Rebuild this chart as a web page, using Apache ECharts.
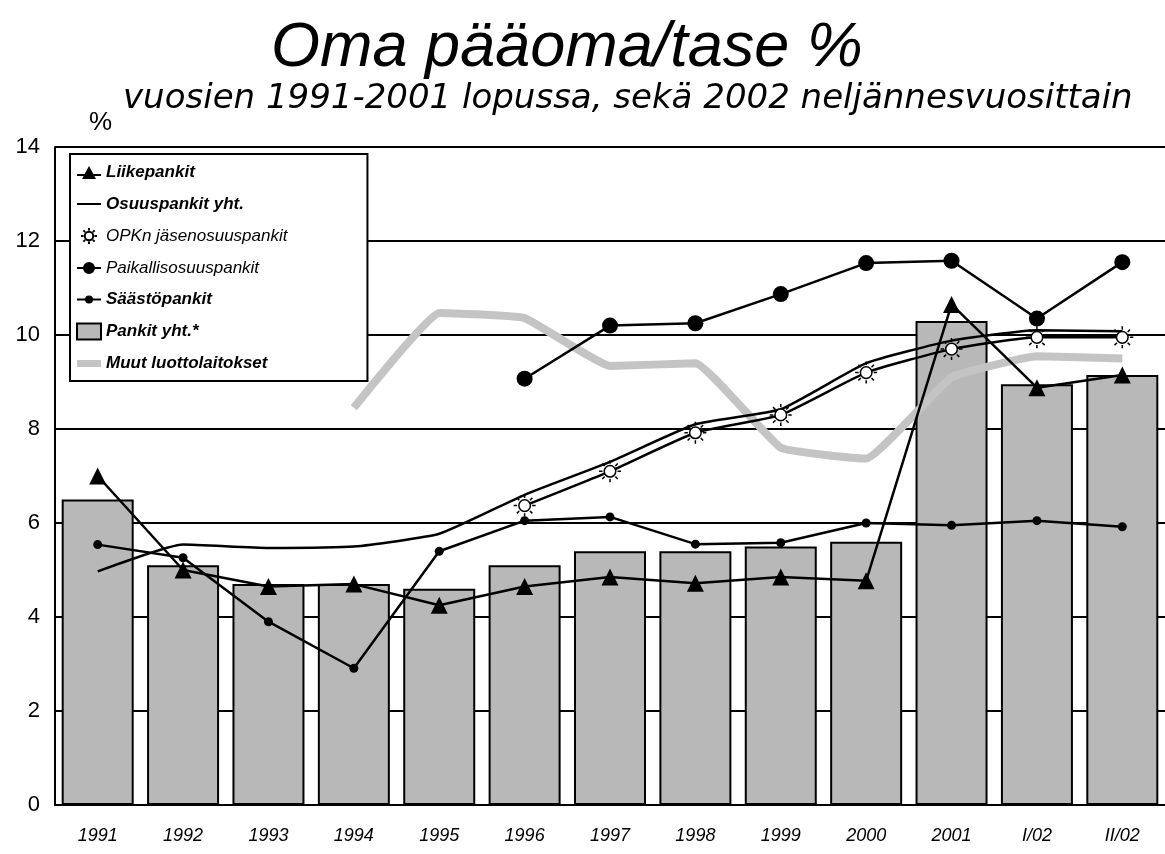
<!DOCTYPE html>
<html>
<head>
<meta charset="utf-8">
<script src="https://cdn.jsdelivr.net/npm/echarts@6/dist/echarts.min.js"></script>
<style>
html,body{margin:0;padding:0;background:#fff;}
#chart{width:1165px;height:854px;}
</style>
</head>
<body>
<div id="chart"></div>
<script>
var categories = ['1991','1992','1993','1994','1995','1996','1997','1998','1999','2000','2001','I/02','II/02'];
var pankitYht = [6.5, 5.1, 4.7, 4.7, 4.6, 5.1, 5.4, 5.4, 5.5, 5.6, 10.3, 8.95, 9.15];
var liikepankit = [7.0, 5.0, 4.65, 4.7, 4.25, 4.65, 4.85, 4.72, 4.85, 4.77, 10.65, 8.88, 9.15];
var osuuspankit = [4.97, 5.54, 5.47, 5.5, 5.77, 6.6, 7.3, 8.1, 8.42, 9.4, 9.88, 10.1, 10.08];
var opkJasen = [null, null, null, null, null, 6.37, 7.1, 7.92, 8.3, 9.2, 9.7, 9.95, 9.95];
var paikallis = [null, null, null, null, null, 9.07, 10.2, 10.25, 10.87, 11.53, 11.58, 10.35, 11.55];
var saasto = [5.54, 5.26, 3.9, 2.91, 5.4, 6.05, 6.13, 5.55, 5.58, 6.0, 5.95, 6.05, 5.92];
var muut = [null, null, null, 8.45, 10.47, 10.36, 9.34, 9.4, 7.6, 7.37, 9.1, 9.55, 9.5];
var yTicks = {min: 0, max: 14, interval: 2};

var sunPath = 'path://M15,10 A5,5 0 1,1 5,10 A5,5 0 1,1 15,10 Z M16.5,10 L19.5,10 M3.5,10 L0.5,10 M10,3.5 L10,0.5 M10,16.5 L10,19.5 M14.6,5.4 L16.7,3.3 M5.4,5.4 L3.3,3.3 M14.6,14.6 L16.7,16.7 M5.4,14.6 L3.3,16.7';
var icoTri = 'path://M0,9 L24,9 L24,11 L0,11 Z M12,1 L19,14 L5,14 Z';
var icoLine = 'path://M0,0 L24,0 L24,2 L0,2 Z';
var icoBigDot = 'path://M0,6 L24,6 L24,8 L0,8 Z M18,7 A6,6 0 1,1 6,7 A6,6 0 1,1 18,7 Z';
var icoSmallDot = 'path://M0,3 L24,3 L24,5 L0,5 Z M16,4 A4,4 0 1,1 8,4 A4,4 0 1,1 16,4 Z';
var icoThick = 'path://M0,0 L24,0 L24,7 L0,7 Z';

var chart = echarts.init(document.getElementById('chart'), null, {renderer: 'canvas'});
var sans = 'Liberation Sans, Arial, sans-serif';
var lblBold = {fontStyle: 'italic', fontWeight: 'bold', fontFamily: sans, fontSize: 17, color: '#000'};
var lblNorm = {fontStyle: 'italic', fontWeight: 'normal', fontFamily: sans, fontSize: 17, color: '#000'};

var option = {
  backgroundColor: '#fff',
  animation: false,
  title: [
    {text: 'Oma pääoma/tase %', left: 266, top: 12,
     textStyle: {fontFamily: sans, fontStyle: 'italic', fontWeight: 'normal', fontSize: 63, color: '#000'}},
    {text: 'vuosien 1991-2001 lopussa, sekä 2002 neljännesvuosittain', left: 118, top: 77,
     textStyle: {fontFamily: 'DejaVu Sans, sans-serif', fontStyle: 'italic', fontWeight: 'normal', fontSize: 34, color: '#000'}},
    {text: '%', left: 84, top: 105,
     textStyle: {fontFamily: sans, fontWeight: 'normal', fontSize: 26, color: '#000'}}
  ],
  legend: {
    orient: 'vertical',
    left: 70, top: 154,
    backgroundColor: '#fff',
    borderColor: '#000', borderWidth: 2,
    padding: [10, 80, 9, 6],
    itemGap: 14.5,
    itemWidth: 24, itemHeight: 16,
    data: [
      {name: 'Liikepankit', icon: icoTri, textStyle: lblBold},
      {name: 'Osuuspankit yht.', icon: icoLine, textStyle: lblBold},
      {name: 'OPKn jäsenosuuspankit', icon: sunPath, textStyle: lblNorm},
      {name: 'Paikallisosuuspankit', icon: icoBigDot, textStyle: lblNorm},
      {name: 'Säästöpankit', icon: icoSmallDot, textStyle: lblBold},
      {name: 'Pankit yht.*', icon: 'rect', textStyle: lblBold},
      {name: 'Muut luottolaitokset', icon: icoThick, textStyle: lblBold}
    ]
  },
  grid: {left: 55, top: 147, width: 1115, height: 658, containLabel: false},
  xAxis: {
    type: 'category',
    data: categories,
    boundaryGap: true,
    axisLine: {lineStyle: {color: '#000', width: 2}},
    axisTick: {show: false},
    axisLabel: {color: '#000', fontStyle: 'italic', fontFamily: sans, fontSize: 18, margin: 22}
  },
  yAxis: {
    type: 'value',
    min: yTicks.min, max: yTicks.max, interval: yTicks.interval,
    axisLine: {show: true, lineStyle: {color: '#000', width: 2}},
    axisTick: {show: false},
    axisLabel: {color: '#000', fontFamily: sans, fontSize: 22, margin: 15},
    splitLine: {show: true, lineStyle: {color: '#000', width: 2}}
  },
  series: [
    {name: 'Pankit yht.*', type: 'bar', data: pankitYht, barWidth: 72,
     itemStyle: {color: '#b8b8b8', borderColor: '#000', borderWidth: 2}},
    {name: 'Muut luottolaitokset', type: 'line', data: muut, smooth: 0.1,
     symbol: 'none', lineStyle: {color: '#c4c4c4', width: 8},
     itemStyle: {color: '#c4c4c4'}},
    {name: 'Osuuspankit yht.', type: 'line', data: osuuspankit, smooth: 0.15,
     symbol: 'none', lineStyle: {color: '#000', width: 2.5}, itemStyle: {color: '#000'}},
    {name: 'OPKn jäsenosuuspankit', type: 'line', data: opkJasen, smooth: 0.15,
     symbol: sunPath, symbolSize: 22,
     lineStyle: {color: '#000', width: 2.5},
     itemStyle: {color: '#fff', borderColor: '#000', borderWidth: 1.5}},
    {name: 'Paikallisosuuspankit', type: 'line', data: paikallis,
     symbol: 'circle', symbolSize: 16,
     lineStyle: {color: '#000', width: 2.5}, itemStyle: {color: '#000'}},
    {name: 'Säästöpankit', type: 'line', data: saasto,
     symbol: 'circle', symbolSize: 9,
     lineStyle: {color: '#000', width: 2.5}, itemStyle: {color: '#000'}},
    {name: 'Liikepankit', type: 'line', data: liikepankit,
     symbol: 'triangle', symbolSize: 17,
     lineStyle: {color: '#000', width: 2.5}, itemStyle: {color: '#000'}}
  ]
};
chart.setOption(option);
</script>
</body>
</html>
